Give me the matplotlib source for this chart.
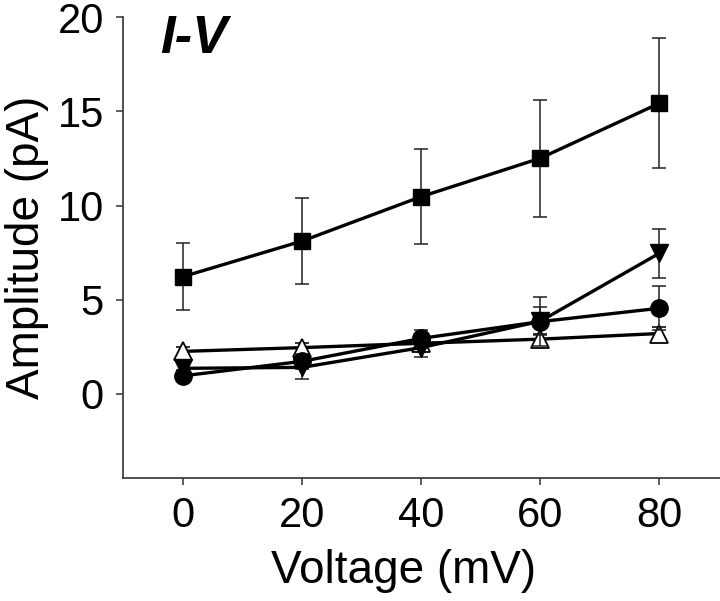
import matplotlib
matplotlib.use("Agg")
import matplotlib.pyplot as plt

plt.rcParams['font.family'] = ['Liberation Sans', 'DejaVu Sans']

voltage = [0, 20, 40, 60, 80]

sq_mean = [6.22, 8.11, 10.47, 12.51, 15.43]
sq_err = [1.77, 2.3, 2.53, 3.1, 3.45]

tri_down_mean = [1.35, 1.4, 2.45, 3.85, 7.46]
tri_down_err = [0.3, 0.6, 0.5, 0.75, 1.3]

circ_mean = [0.95, 1.72, 2.94, 3.83, 4.54]
circ_err = [0.3, 0.4, 0.45, 1.3, 1.18]

tri_up_mean = [2.25, 2.45, 2.68, 2.9, 3.2]
tri_up_err = [0.25, 0.25, 0.3, 0.25, 0.35]

yticks = [0, 5, 10, 15, 20]
xticks = [0, 20, 40, 60, 80]

fig = plt.figure(figsize=(7.2, 6.01), dpi=100)
ax = fig.add_axes([0.1713, 0.2052, 0.8287, 0.766])

common = dict(color='black', lw=2.4, elinewidth=1.1, ecolor='#222222',
              capsize=5.3, capthick=1.1)
ax.errorbar(voltage, tri_up_mean, yerr=tri_up_err, marker='^', ms=12.5,
            mfc='white', mec='black', mew=1.3, zorder=3, **common)
ax.errorbar(voltage, tri_down_mean, yerr=tri_down_err, marker='v', ms=13,
            mfc='black', mec='black', zorder=4, **common)
ax.errorbar(voltage, circ_mean, yerr=circ_err, marker='o', ms=12.5,
            mfc='black', mec='black', zorder=4, **common)
ax.errorbar(voltage, sq_mean, yerr=sq_err, marker='s', ms=11.5,
            mfc='black', mec='black', zorder=5, **common)

ax.set_xlim(-10, 90.2)
ax.set_ylim(-4.46, 20)
ax.set_xticks(xticks)
ax.set_yticks(yticks)
ax.tick_params(direction='out', length=5, width=1.1, color='#333333',
               labelsize=30)
ax.tick_params(axis='y', pad=9)
ax.tick_params(axis='x', pad=8)
for s in ['top', 'right']:
    ax.spines[s].set_visible(False)
for s in ['left', 'bottom']:
    ax.spines[s].set_linewidth(1.2)
    ax.spines[s].set_color('#333333')

ax.set_xlabel('Voltage (mV)', fontsize=33, labelpad=14)
ax.xaxis.set_label_coords(0.47, -0.155)
ax.set_ylabel('Amplitude (pA)', fontsize=33, labelpad=6)
ax.text(0.062, 0.922, 'I-V', transform=ax.transAxes, fontsize=38,
        fontweight='bold', fontstyle='italic', va='baseline', ha='left')

fig.savefig('out.png', dpi=100)
